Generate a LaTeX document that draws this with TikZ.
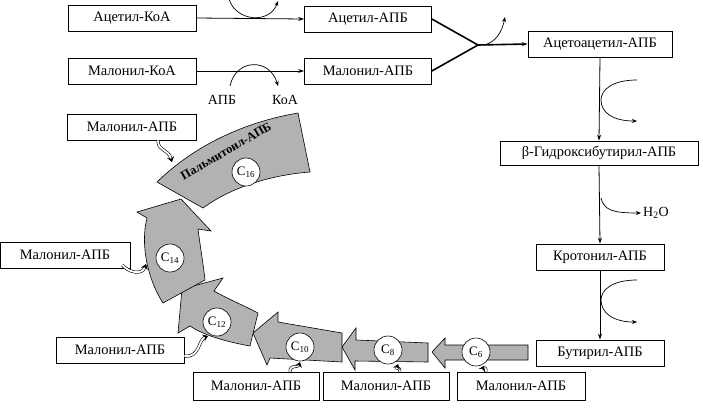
\documentclass[tikz,border=0pt]{standalone}
\usepackage{fontspec}
\setmainfont{Liberation Serif}
\usetikzlibrary{arrows.meta}
\begin{document}
\begin{tikzpicture}[x=1bp,y=-1bp,
  box/.style={draw,line width=0.7pt,minimum height=26bp,inner sep=0pt,font=\fontsize{14.5}{16}\selectfont},
  arr/.style={line width=0.8pt,-{Stealth[length=6pt,width=4pt]}},
  thick2/.style={line width=1.6pt},
  band/.style={fill=black!30,draw=black,line width=0.6pt},
  cnum/.style={circle,draw,fill=white,line width=0.6pt,minimum size=28bp,inner sep=0pt,font=\fontsize{13}{14}\selectfont},
  feed/.style={double=white,draw=black,double distance=1.8pt,line width=0.6pt,-{Stealth[length=5pt,width=7pt]}},
  lbl/.style={font=\fontsize{14}{16}\selectfont,inner sep=1pt}]
\useasboundingbox (0,0) rectangle (703,409);
% top boxes
\node[box,minimum width=128bp] (acoa) at (132,18) {Ацетил-КоА};
\node[box,minimum width=128bp] (mcoa) at (132,71) {Малонил-КоА};
\node[box,minimum width=127bp] (aapb) at (368,19) {Ацетил-АПБ};
\node[box,minimum width=127bp] (mapb) at (368,71) {Малонил-АПБ};
\node[box,minimum width=144bp] (aaapb) at (600,44) {Ацетоацетил-АПБ};
\node[box,minimum width=198bp,minimum height=24bp] (bhb) at (599,153) {β-Гидроксибутирил-АПБ};
\node[box,minimum width=128bp] (krot) at (600,257) {Кротонил-АПБ};
\node[box,minimum width=128bp] (but) at (600,353) {Бутирил-АПБ};
% malonyl feeder boxes
\node[box,minimum width=129bp] (m1) at (132,127) {Малонил-АПБ};
\node[box,minimum width=130bp] (m2) at (65,255) {Малонил-АПБ};
\node[box,minimum width=128bp] (m3) at (120,350) {Малонил-АПБ};
\node[box,minimum width=126bp,minimum height=28bp] (m4) at (256,386) {Малонил-АПБ};
\node[box,minimum width=126bp,minimum height=28bp] (m5) at (386,386) {Малонил-АПБ};
\node[box,minimum width=128bp,minimum height=28bp] (m6) at (521,386) {Малонил-АПБ};
% top reactions
\draw[arr] (acoa.east) -- (aapb.west);
\draw[arr] (mcoa.east) -- (mapb.west);
\draw[line width=0.7pt,-{Stealth[length=5pt,width=4pt]}] (229,-1) .. controls (236,22) and (270,24) .. (278,1);
\draw[line width=0.7pt,-{Stealth[length=5pt,width=4pt]}] (230,86) .. controls (236,58) and (270,58) .. (278,86);
\node[lbl] (lapb) at (222,100) {АПБ};
\node[lbl] (lkoa) at (285,100) {КоА};
\coordinate (j) at (478,45);
\draw[thick2] (aapb.east) -- (j);
\draw[thick2] (mapb.east) -- (j);
\draw[thick2,-{Stealth[length=6pt,width=4pt]}] (j) -- (aaapb.west);
\draw[line width=0.7pt,-{Stealth[length=5pt,width=4pt]}] (484,45) .. controls (496,42) and (502,32) .. (505,17);
% right column
\draw[arr] (aaapb.south) -- (bhb.north);
\draw[arr] (bhb.south) -- (krot.north);
\draw[arr] (krot.south) -- (but.north);
\draw[line width=0.7pt,-{Stealth[length=5pt,width=4pt]}] (637,80) .. controls (612,80) and (601,90) .. (601,100) .. controls (601,112) and (612,121) .. (637,121);
\draw[line width=0.7pt,-{Stealth[length=5pt,width=4pt]}] (601,198) .. controls (604,210) and (612,213) .. (641,213);
\node[lbl,anchor=west] (h2o) at (642,213) {H\textsubscript{2}O};
\draw[line width=0.7pt,-{Stealth[length=5pt,width=4pt]}] (637,280) .. controls (612,280) and (601,290) .. (601,300) .. controls (601,312) and (612,322) .. (637,322);
% band pieces
\draw[band] (528,345) -- (528,360) -- (445,360) -- (445,368) -- (432,352) -- (445,338) -- (445,345) -- cycle;
\draw[band] (428,343) -- (428,362) -- (355,361) -- (355,370) -- (342,347) -- (356,328) -- (356,340) -- cycle;
\draw[band] (342,333) -- (342,362) -- (270,358) -- (267,365) -- (253,333) -- (278,312) -- (278,322) -- cycle;
\draw[band] (258,313) -- (250,346) .. controls (228,342) and (205,336) .. (190,326) -- (178,333) -- (182,289) -- (223,278) -- (214,291) .. controls (230,300) and (245,306) .. cycle;
\draw[band] (163,303) -- (205,280) .. controls (203,262) and (200,245) .. (198,229) -- (211,231) -- (181,199) -- (137,212) -- (147,218) .. controls (140,245) and (148,280) .. cycle;
\draw[band] (157,182) .. controls (195,145) and (245,122) .. (298,113) -- (310,172) .. controls (270,175) and (230,188) .. (203,208) -- cycle;
\node[rotate=30,font=\bfseries\fontsize{12.5}{14}\selectfont] (palm) at (226,151) {Пальмитоил-АПБ};
\node[cnum] (c6) at (476,352) {C\textsubscript{6}};
\node[cnum] (c8) at (388,350) {C\textsubscript{8}};
\node[cnum] (c10) at (300,347) {C\textsubscript{10}};
\node[cnum] (c12) at (217,322) {C\textsubscript{12}};
\node[cnum] (c14) at (170,258) {C\textsubscript{14}};
\node[cnum] (c16) at (246,172) {C\textsubscript{16}};
% feeders
\draw[feed] (m1.south) ++(26,0) .. controls (158,152) and (168,148) .. (172,162);
\draw[feed] (m2.east) ++(-8,10) .. controls (128,272) and (142,276) .. (146,264);
\draw[feed] (m3.east) ++(0,6) .. controls (200,358) and (198,340) .. (208,336);
\draw[feed] (m4.north) ++(34,0) .. controls (290,364) and (298,368) .. (300,362);
\draw[feed] (m5.north) ++(14,0) .. controls (400,366) and (396,370) .. (398,364);
\draw[feed] (m6.north) ++(-35,0) .. controls (486,364) and (482,370) .. (484,366);
\end{tikzpicture}
\end{document}
